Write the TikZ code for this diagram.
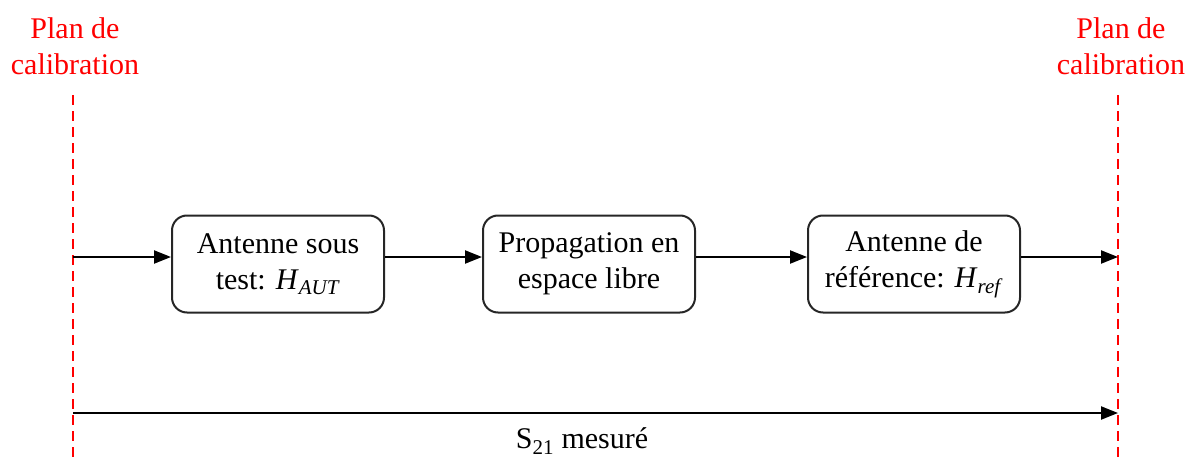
\documentclass[tikz,border=0pt]{standalone}
\usepackage{fontspec}
\setmainfont{Liberation Serif}
\usetikzlibrary{arrows.meta}
\begin{document}
\begin{tikzpicture}[x=1pt,y=-1pt,
  every node/.style={font=\fontsize{30}{36}\selectfont},
  blockbox/.style={draw=black!85, line width=2pt, rounded corners=15pt,
    minimum width=212pt, minimum height=97pt, inner sep=0pt, align=center},
  planline/.style={draw=red, line width=2pt, dash pattern=on 10pt off 6pt},
  planlabel/.style={text=red, align=center, inner sep=0pt},
  flow/.style={draw=black, line width=2.2pt, -{Triangle[length=17pt,width=13pt]}}]
\useasboundingbox (0,0) rectangle (1192,463);
% calibration planes
\coordinate (LT) at (73,95);
\coordinate (LB) at (73,463);
\coordinate (RT) at (1118,95);
\coordinate (RB) at (1118,463);
\draw[planline] (LT) -- (LB);
\draw[planline] (RT) -- (RB);
\node[planlabel] (pl) at (75,46) {Plan de\\calibration};
\node[planlabel] (pr) at (1121,46) {Plan de\\calibration};
% blocks
\node[blockbox] (b1) at (278,264) {Antenne sous\\test: \textit{H}\textsubscript{\textit{AUT}}};
\node[blockbox] (b2) at (589,264) {Propagation en\\espace libre};
\node[blockbox] (b3) at (914,264) {Antenne de\\référence: \textit{H}\textsubscript{\textit{ref}}};
% flow arrows
\coordinate (in) at (73,257);
\coordinate (out) at (1118,257);
\draw[flow] (in) -- (b1.west |- in);
\draw[flow] (b1.east |- in) -- (b2.west |- in);
\draw[flow] (b2.east |- in) -- (b3.west |- in);
\draw[flow] (b3.east |- in) -- (out);
% measured S21
\coordinate (sa) at (73,413);
\coordinate (sb) at (1118,413);
\draw[flow] (sa) -- (sb);
\node[inner sep=0pt] (s21) at (582,441) {S\textsubscript{21} mesuré};
\end{tikzpicture}
\end{document}
